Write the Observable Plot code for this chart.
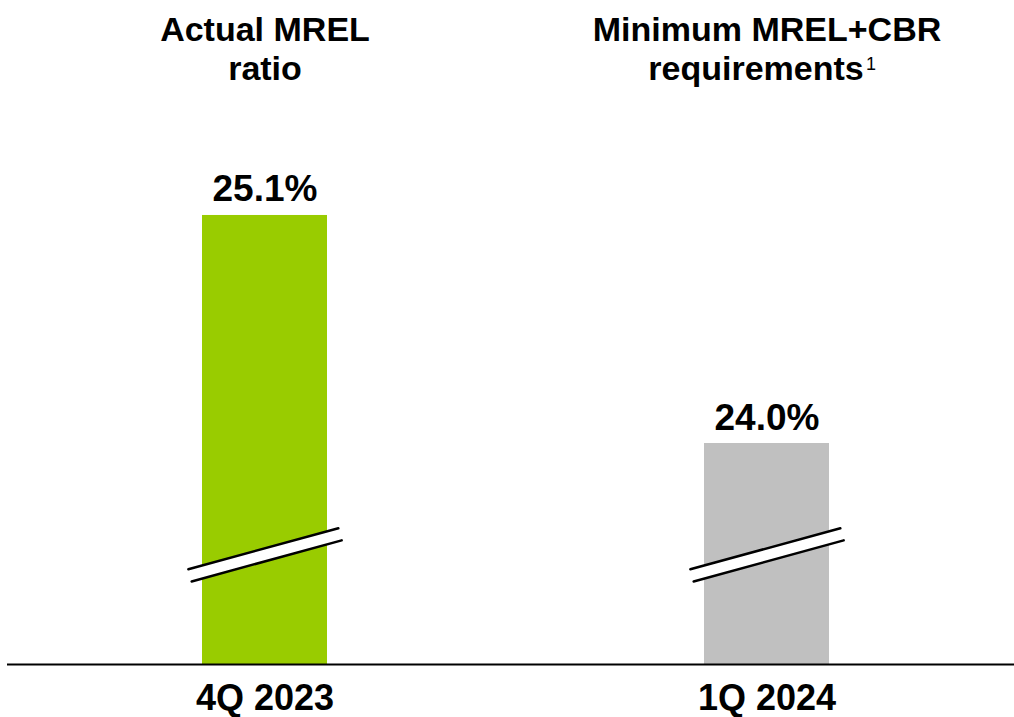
<!DOCTYPE html>
<html>
<head>
<meta charset="utf-8">
<script src="https://cdn.jsdelivr.net/npm/d3@7"></script>
<script src="https://cdn.jsdelivr.net/npm/@observablehq/plot@0.6"></script>
<style>
  html, body { margin: 0; padding: 0; background: #fff; }
  #chart svg { display: block; font-family: "Liberation Sans", Arial, sans-serif; }
</style>
</head>
<body>
<div id="chart"></div>
<script>
const categories = ["4Q 2023", "1Q 2024"];
const values = [25.1, 24.0];
const titleLine1 = ["Actual MREL", "Minimum MREL+CBR"];
const titleLine2 = ["ratio", "requirements"];
const footnotes = ["", "1"];
const colors = ["#99cc00", "#c0c0c0"];
const yAxisRange = [22.934, 26.137]; // broken axis: visible value window
const breakValue = 23.463;           // where the axis break is drawn

const data = categories.map((c, i) => ({
  cat: c, value: values[i], t1: titleLine1[i], t2: titleLine2[i], note: footnotes[i], color: colors[i]
}));

const bandShape = { draw(ctx, l) { ctx.rect(-6.3, -l, 12.6, l); } };
const linesShape = {
  draw(ctx, l) {
    ctx.moveTo(-6.3, 0); ctx.lineTo(-6.3, -l);
    ctx.moveTo(6.3, 0); ctx.lineTo(6.3, -l);
  }
};

const titleStyle = { frameAnchor: "top", lineAnchor: "top", fontSize: 34, fontWeight: "bold", fill: "black" };

const chart = Plot.plot({
  width: 1014,
  height: 717,
  marginTop: 0,
  marginBottom: 53,
  marginLeft: 16,
  marginRight: 0,
  style: { fontFamily: "Liberation Sans, Arial, sans-serif", background: "#fff", color: "#000" },
  x: { domain: categories, paddingInner: 0.7515, paddingOuter: 0.368, axis: null },
  y: { domain: yAxisRange, axis: null },
  marks: [
    Plot.barY(data, { x: "cat", y1: yAxisRange[0], y2: "value", fill: "color" }),
    Plot.vector(data, { x: "cat", y: breakValue, length: 155.5, rotate: 74.7, anchor: "middle",
      shape: bandShape, fill: "white", stroke: "none" }),
    Plot.vector(data, { x: "cat", y: breakValue, length: 155.5, rotate: 74.7, anchor: "middle",
      shape: linesShape, stroke: "black", strokeWidth: 2.5 }),
    Plot.ruleY([yAxisRange[0]], { stroke: "black", strokeWidth: 2, insetLeft: -9 }),
    Plot.text(data, { x: "cat", y: "value", text: d => d.value.toFixed(1) + "%",
      lineAnchor: "bottom", dy: -14, fontSize: 37, fontWeight: "bold", fill: "black" }),
    Plot.text(data, { x: "cat", text: "t1", dy: 16, ...titleStyle }),
    Plot.text(data.filter(d => !d.note), { x: "cat", text: "t2", dy: 55, ...titleStyle }),
    Plot.text(data.filter(d => d.note), { x: "cat", text: "t2", dy: 55, dx: -11, ...titleStyle }),
    Plot.text(data.filter(d => d.note), { x: "cat", text: "note", frameAnchor: "top", lineAnchor: "top",
      dx: 104, dy: 57, fontSize: 18, textAnchor: "middle", fill: "black" }),
    Plot.axisX({ tickSize: 0, tickPadding: 20, fontSize: 36, fontWeight: "bold", label: null, color: "black" })
  ]
});

document.getElementById("chart").appendChild(chart);
</script>
</body>
</html>
